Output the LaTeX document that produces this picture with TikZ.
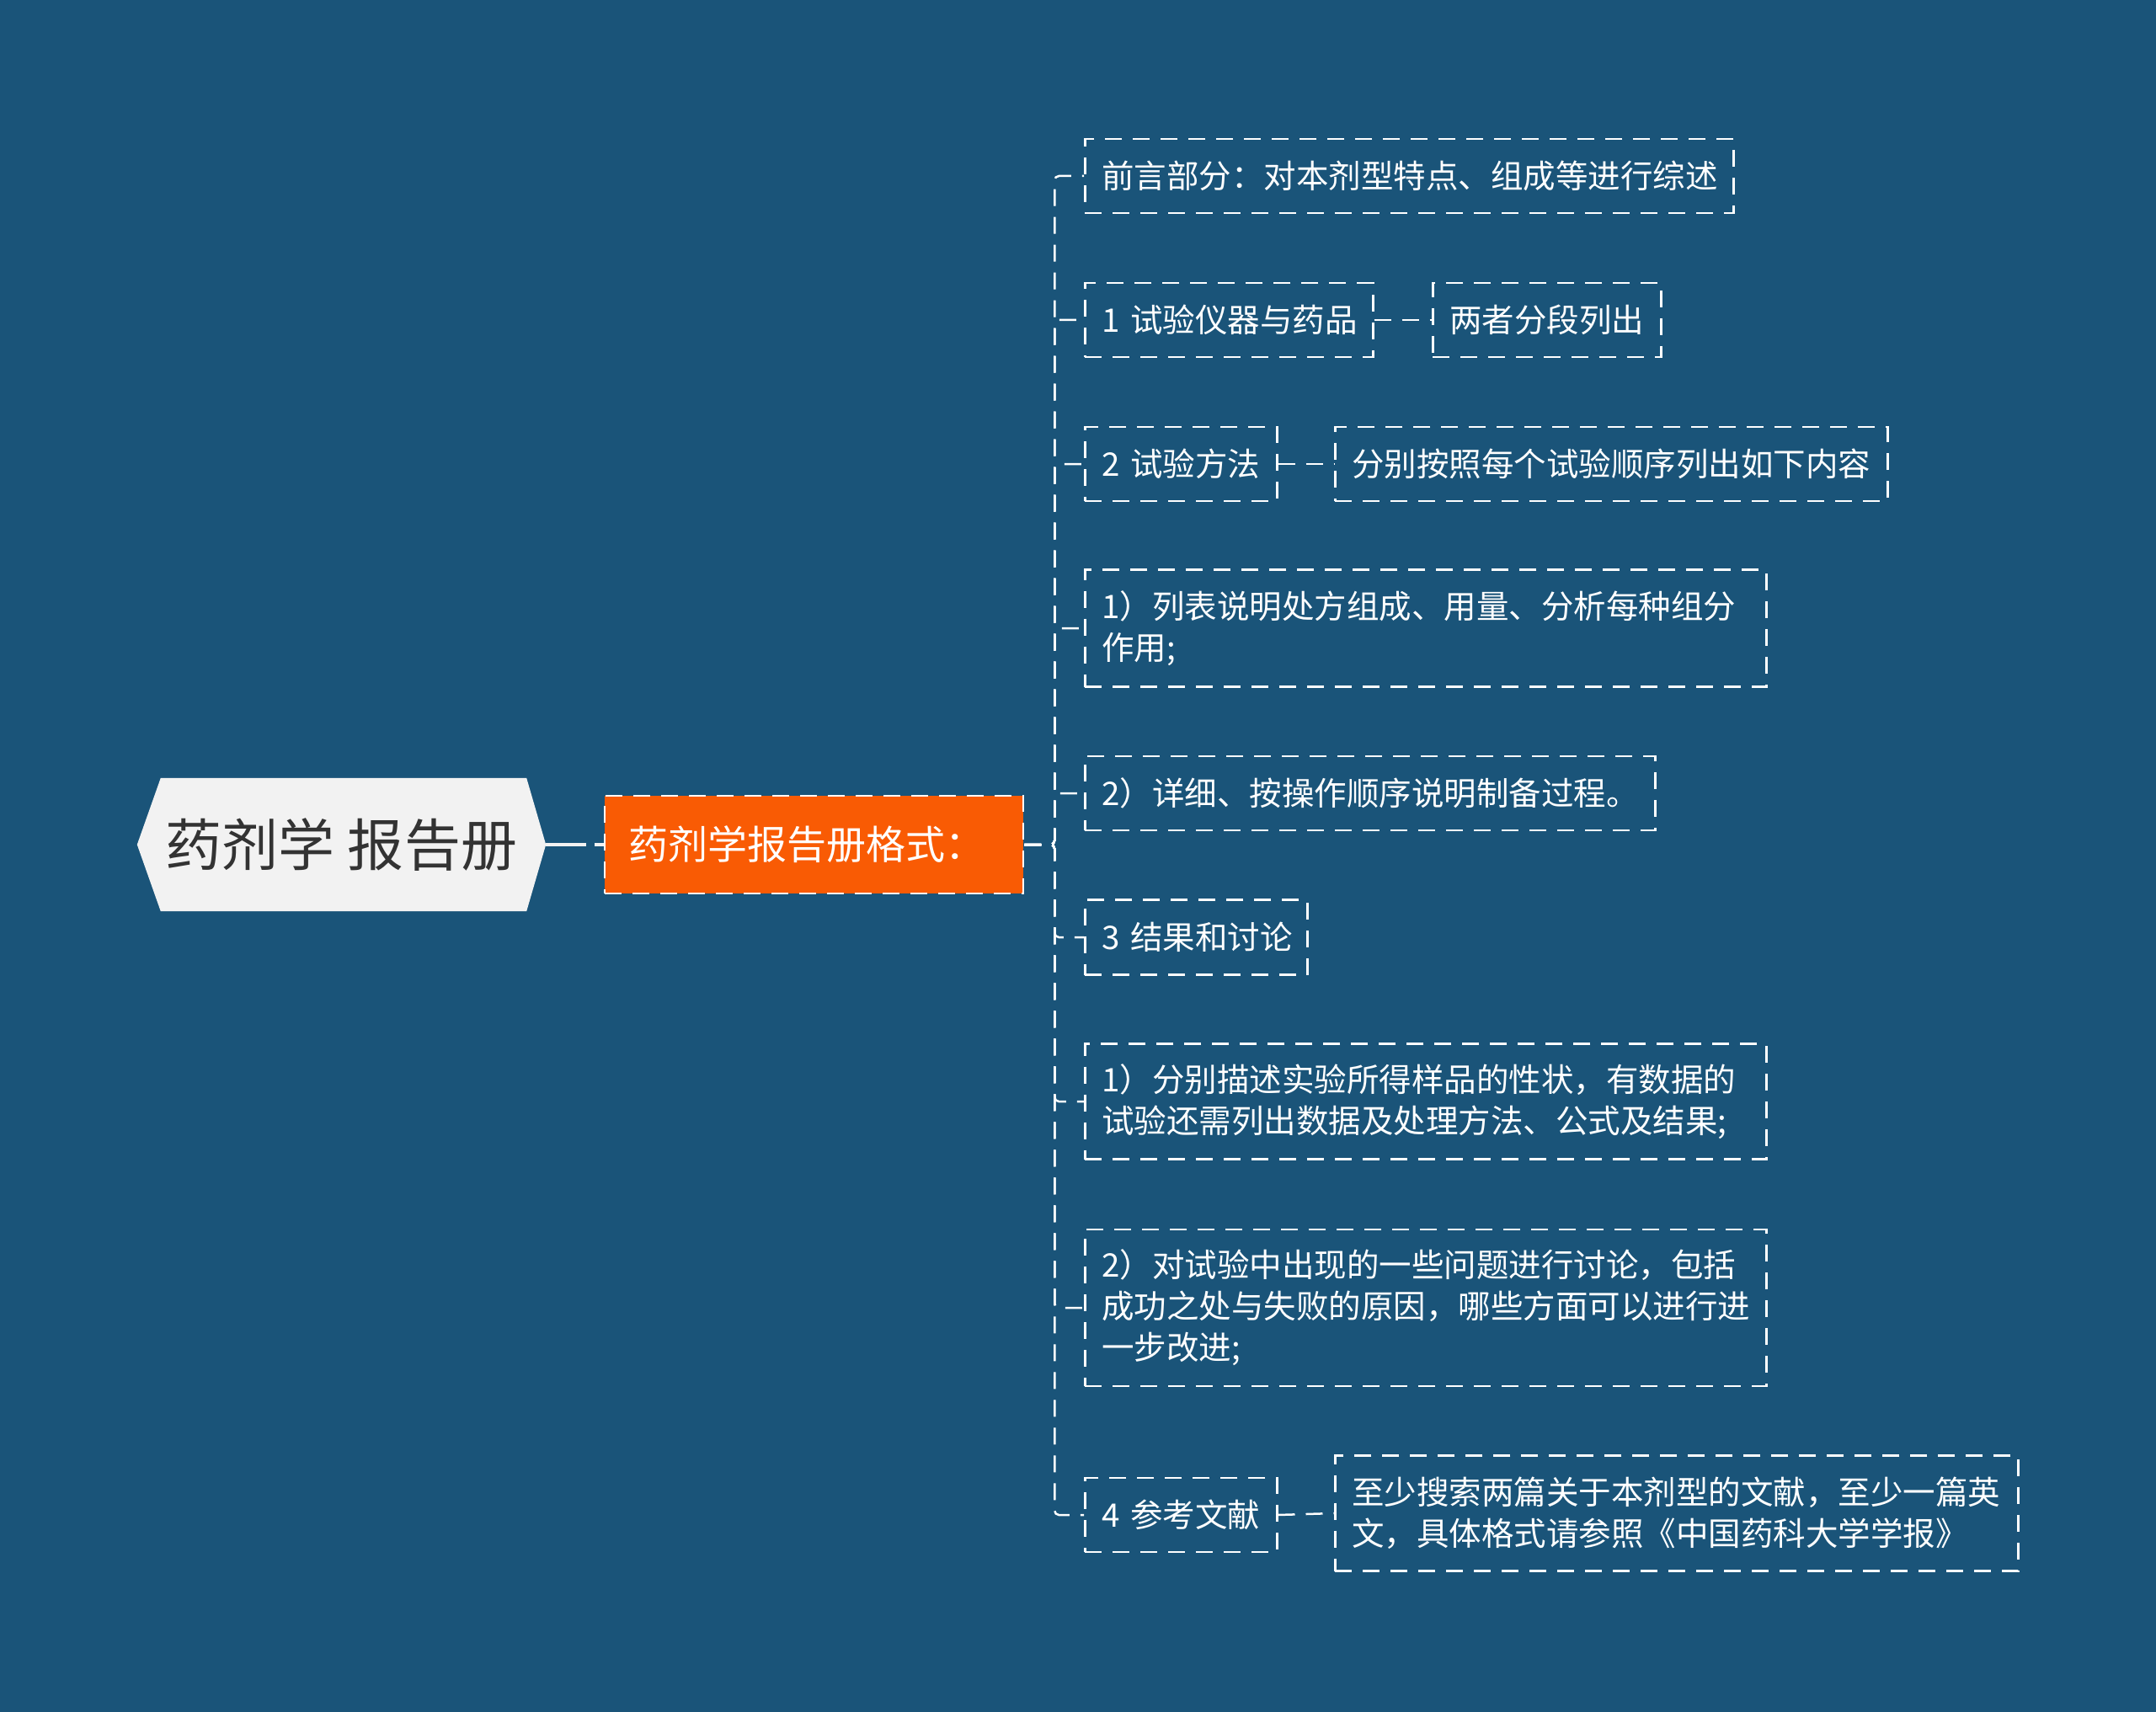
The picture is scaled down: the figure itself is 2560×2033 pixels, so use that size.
\documentclass[tikz,border=0pt]{standalone}
\usepackage{fontspec}
\setmainfont{Noto Sans CJK SC}
\usetikzlibrary{calc}
\definecolor{bg}{HTML}{1A5479}
\definecolor{orangefill}{HTML}{F95B04}
\definecolor{rootfill}{HTML}{F2F2F2}
\definecolor{roottext}{HTML}{333333}
\begin{document}
\begin{tikzpicture}[x=1pt,y=-1pt,
  leaf/.style={draw=white, dash pattern=on 20pt off 13pt, line width=2.5pt,
    text=white, font=\fontsize{38.5}{49}\selectfont, align=left,
    inner xsep=20pt, inner ysep=0pt, anchor=west},
  centerbox/.style={fill=orangefill, draw=white, dash pattern=on 20pt off 13pt, line width=2.5pt,
    text=white, font=\fontsize{47}{56}\selectfont, align=left,
    inner xsep=28pt, inner ysep=0pt, minimum width=497pt, minimum height=116pt, text width=441pt},
  rootbox/.style={text=roottext, font=\fontsize{67}{76}\selectfont, inner sep=0pt,
    minimum width=485pt, minimum height=158pt},
  rootconn/.style={draw=rootfill, line width=4pt, dash pattern=on 48pt off 10pt},
  conn/.style={draw=white, line width=2.5pt, dash pattern=on 20pt off 13pt, rounded corners=5pt}
]
\fill[bg] (0,0) rectangle (2560,2033);
\useasboundingbox (0,0) rectangle (2560,2033);

% root
\node[rootbox] (r) at (405.5,1003) {};
\fill[rootfill] (r.west) -- ($(r.north west)+(28,0)$) -- ($(r.north east)+(-23,0)$) -- (r.east)
  -- ($(r.south east)+(-23,0)$) -- ($(r.south west)+(28,0)$) -- cycle;
\node[rootbox] at (r.center) {药剂学~报告册};

% center
\node[centerbox] (c) at (966.5,1003) {药剂学报告册格式：};

% children
\node[leaf, minimum width=770pt, minimum height=88pt, text width=730pt] (k1) at (1287,209) {前言部分：对本剂型特点、组成等进行综述};
\node[leaf, minimum width=342pt, minimum height=88pt, text width=302pt] (k2) at (1287,380) {1~试验仪器与药品};
\node[leaf, minimum width=271pt, minimum height=88pt, text width=231pt] (k2a) at (1700,380) {两者分段列出};
\node[leaf, minimum width=228pt, minimum height=88pt, text width=188pt] (k3) at (1287,551) {2~试验方法};
\node[leaf, minimum width=656pt, minimum height=88pt, text width=616pt] (k3a) at (1584,551) {分别按照每个试验顺序列出如下内容};
\node[leaf, minimum width=809pt, minimum height=139pt, text width=769pt] (k4) at (1287,746) {1）列表说明处方组成、用量、分析每种组分\\作用;};
\node[leaf, minimum width=677pt, minimum height=88pt, text width=637pt] (k5) at (1287,942) {2）详细、按操作顺序说明制备过程。};
\node[leaf, minimum width=264pt, minimum height=89pt, text width=224pt] (k6) at (1287,1113) {3~结果和讨论};
\node[leaf, minimum width=809pt, minimum height=137pt, text width=769pt] (k7) at (1287,1308) {1）分别描述实验所得样品的性状，有数据的\\试验还需列出数据及处理方法、公式及结果;};
\node[leaf, minimum width=809pt, minimum height=186pt, text width=769pt] (k8) at (1287,1553) {2）对试验中出现的一些问题进行讨论，包括\\成功之处与失败的原因，哪些方面可以进行进\\一步改进;};
\node[leaf, minimum width=228pt, minimum height=88pt, text width=188pt] (k9) at (1287,1799) {4~参考文献};
\node[leaf, minimum width=811pt, minimum height=137pt, text width=771pt] (k9a) at (1584,1797) {至少搜索两篇关于本剂型的文献，至少一篇英\\文，具体格式请参照《中国药科大学学报》};

% connectors
\draw[rootconn] (r.east) -- (c.west);
\foreach \k in {k1,k2,k3,k4,k5,k6,k7,k8,k9}{
  \draw[conn] (c.east) -- ([xshift=36pt]c.east) |- (\k.west);
}
\draw[conn] (k2.east) -- (k2a.west);
\draw[conn] (k3.east) -- (k3a.west);
\draw[conn] (k9.east) -- (k9a.west);
\end{tikzpicture}
\end{document}
